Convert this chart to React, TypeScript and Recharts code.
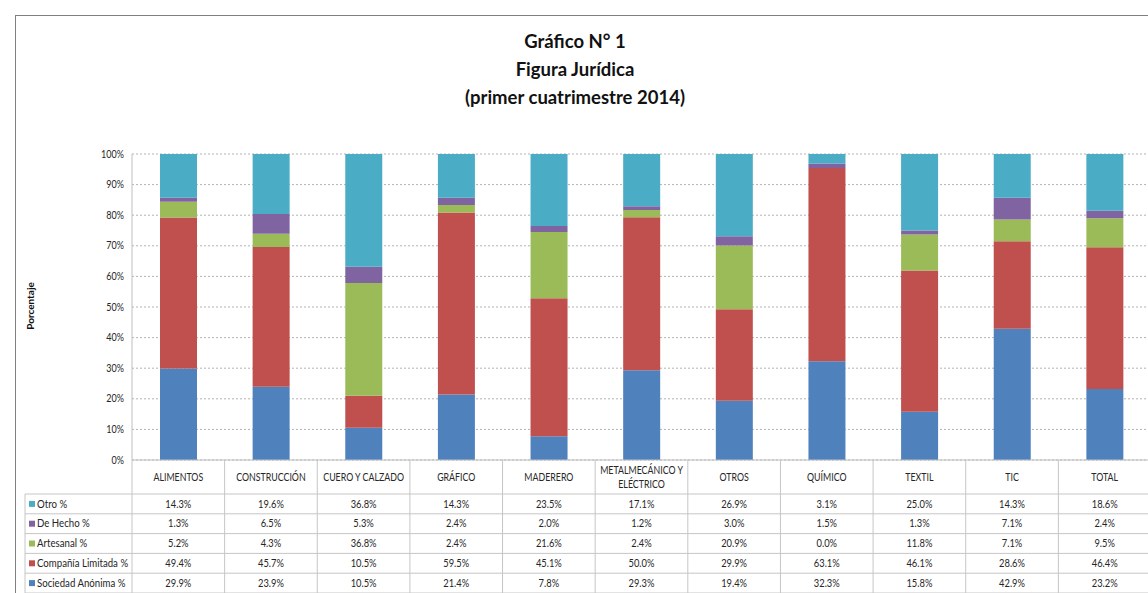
import React from 'react';
import { BarChart, Bar, XAxis, YAxis, CartesianGrid } from 'recharts';

const categories = ['ALIMENTOS', 'CONSTRUCCIÓN', 'CUERO Y CALZADO', 'GRÁFICO', 'MADERERO', 'METALMECÁNICO Y ELÉCTRICO', 'OTROS', 'QUÍMICO', 'TEXTIL', 'TIC', 'TOTAL'];
const headerLabels = [['ALIMENTOS'], ['CONSTRUCCIÓN'], ['CUERO Y CALZADO'], ['GRÁFICO'], ['MADERERO'], ['METALMECÁNICO Y', 'ELÉCTRICO'], ['OTROS'], ['QUÍMICO'], ['TEXTIL'], ['TIC'], ['TOTAL']];
const sociedadAnonima = [29.9, 23.9, 10.5, 21.4, 7.8, 29.3, 19.4, 32.3, 15.8, 42.9, 23.2];
const companiaLimitada = [49.4, 45.7, 10.5, 59.5, 45.1, 50.0, 29.9, 63.1, 46.1, 28.6, 46.4];
const artesanal = [5.2, 4.3, 36.8, 2.4, 21.6, 2.4, 20.9, 0.0, 11.8, 7.1, 9.5];
const deHecho = [1.3, 6.5, 5.3, 2.4, 2.0, 1.2, 3.0, 1.5, 1.3, 7.1, 2.4];
const otro = [14.3, 19.6, 36.8, 14.3, 23.5, 17.1, 26.9, 3.1, 25.0, 14.3, 18.6];
const yTicks = [0, 0.1, 0.2, 0.3, 0.4, 0.5, 0.6, 0.7, 0.8, 0.9, 1];

const stackSeries = [
  { key: 'sa', name: 'Sociedad Anónima %', color: '#4F81BD', values: sociedadAnonima },
  { key: 'cl', name: 'Compañía Limitada %', color: '#C0504D', values: companiaLimitada },
  { key: 'ar', name: 'Artesanal %', color: '#9BBB59', values: artesanal },
  { key: 'dh', name: 'De Hecho %', color: '#8064A2', values: deHecho },
  { key: 'ot', name: 'Otro %', color: '#4BACC6', values: otro },
];
const tableRows = [...stackSeries].reverse();

const data = categories.map((c, i) => {
  const row: any = { category: c };
  stackSeries.forEach((s) => { row[s.key] = s.values[i]; });
  return row;
});

const W = 1200;
const H = 600;
const PLOT_LEFT = 132;
const PLOT_RIGHT = 1151;
const PLOT_TOP = 154;
const PLOT_BOTTOM = 460;
const X_AXIS_H = H - PLOT_BOTTOM;
const HEADER_H = 34;
const ROW_H = 19.8;
const LEGEND_LEFT = 25;
const LINE = '#c6c6c6';
const TEXT = '#262626';
const FONT = 'Lato, "Liberation Sans", Arial, sans-serif';
const TFS = 10.5;

const CText = ({ x, y, sx, anchor, children, size }: any) => (
  <text
    transform={`translate(${x},${y}) scale(${sx},1)`}
    x={0}
    y={0}
    dy="0.35em"
    textAnchor={anchor || 'middle'}
    fontSize={size || TFS}
    fill={TEXT}
    fontFamily={FONT}
  >
    {children}
  </text>
);

const YTick = (props: any) => {
  const { x, y, payload } = props;
  return <CText x={x} y={y} sx={0.86} anchor="end">{Math.round(payload.value * 100) + '%'}</CText>;
};

const TableTick = (props: any) => {
  const { x, y, payload } = props;
  let i = props.index;
  if (i === undefined || i === null) i = payload && payload.index;
  if (i === undefined || i === null) i = categories.indexOf(payload.value);
  const band = (PLOT_RIGHT - PLOT_LEFT) / categories.length;
  const top = y;
  const left = x - band / 2;
  const right = x + band / 2;
  const rowsTop = top + HEADER_H;
  const bottom = rowsTop + tableRows.length * ROW_H;
  const lines = headerLabels[i] || [payload.value];
  const els: any[] = [];
  els.push(<line key="vr" x1={right} x2={right} y1={top} y2={bottom} stroke={LINE} strokeWidth={1} />);
  for (let k = 0; k <= tableRows.length; k++) {
    const yy = rowsTop + k * ROW_H;
    els.push(<line key={'h' + k} x1={left} x2={right} y1={yy} y2={yy} stroke={LINE} strokeWidth={1} />);
  }
  if (i === 0) {
    els.push(<line key="vl" x1={left} x2={left} y1={top} y2={bottom} stroke={LINE} strokeWidth={1} />);
    els.push(<line key="lgl" x1={LEGEND_LEFT} x2={LEGEND_LEFT} y1={rowsTop} y2={bottom} stroke={LINE} strokeWidth={1} />);
    for (let k = 0; k <= tableRows.length; k++) {
      const yy = rowsTop + k * ROW_H;
      els.push(<line key={'lh' + k} x1={LEGEND_LEFT} x2={left} y1={yy} y2={yy} stroke={LINE} strokeWidth={1} />);
    }
    tableRows.forEach((s, r) => {
      const cy = rowsTop + r * ROW_H + ROW_H / 2;
      els.push(<rect key={'ls' + r} x={LEGEND_LEFT + 4} y={cy - 3} width={6} height={6} fill={s.color} />);
      els.push(
        <CText key={'lt' + r} x={LEGEND_LEFT + 12} y={cy} sx={0.92} anchor="start">{s.name}</CText>
      );
    });
  }
  const hc = top + HEADER_H / 2;
  lines.forEach((ln: string, li: number) => {
    const off = (li - (lines.length - 1) / 2) * 14;
    els.push(<CText key={'hd' + li} x={x} y={hc + off} sx={0.84}>{ln}</CText>);
  });
  tableRows.forEach((s, r) => {
    const cy = rowsTop + r * ROW_H + ROW_H / 2;
    els.push(<CText key={'v' + r} x={x} y={cy} sx={0.89}>{s.values[i].toFixed(1) + '%'}</CText>);
  });
  return <g>{els}</g>;
};

export default function App() {
  return (
    <div style={{ position: 'fixed', left: 0, top: 0, width: 1148, height: 593, overflow: 'hidden', background: '#fff' }}>
      <div style={{ position: 'absolute', left: 15, top: 15, width: 1300, height: 800, border: '1px solid #808080', boxSizing: 'border-box' }} />
      <div style={{ position: 'absolute', left: 0, top: 27, width: 1150, textAlign: 'center', fontFamily: FONT, fontWeight: 'bold', fontSize: 18.5, lineHeight: '28px', color: '#111' }}>
        <div>Gráfico N° 1</div>
        <div>Figura Jurídica</div>
        <div>(primer cuatrimestre 2014)</div>
      </div>
      <div style={{ position: 'absolute', left: 30, top: 306, width: 0, height: 0 }}>
        <div style={{ position: 'absolute', left: 0, top: 0, transform: 'translate(-50%, -50%) rotate(-90deg)', fontFamily: FONT, fontWeight: 'bold', fontSize: 10, color: '#111', whiteSpace: 'nowrap' }}>
          Porcentaje
        </div>
      </div>
      <div style={{ position: 'absolute', left: 0, top: 0 }}>
        <BarChart
          width={W}
          height={H}
          data={data}
          stackOffset="expand"
          margin={{ top: PLOT_TOP, right: W - PLOT_RIGHT, left: 0, bottom: 0 }}
        >
          <CartesianGrid vertical={false} stroke="#b3b3b3" strokeDasharray="2 2" />
          <YAxis
            type="number"
            domain={[0, 1]}
            ticks={yTicks}
            interval={0}
            width={PLOT_LEFT}
            axisLine={{ stroke: '#bfbfbf' }}
            tickLine={false}
            tick={<YTick />}
          />
          <XAxis
            dataKey="category"
            height={X_AXIS_H}
            interval={0}
            tickLine={false}
            tickSize={0}
            tickMargin={0}
            axisLine={{ stroke: '#bfbfbf' }}
            tick={<TableTick />}
          />
          {stackSeries.map((s) => (
            <Bar key={s.key} dataKey={s.key} name={s.name} stackId="a" fill={s.color} barSize={37} isAnimationActive={false} />
          ))}
        </BarChart>
      </div>
    </div>
  );
}
